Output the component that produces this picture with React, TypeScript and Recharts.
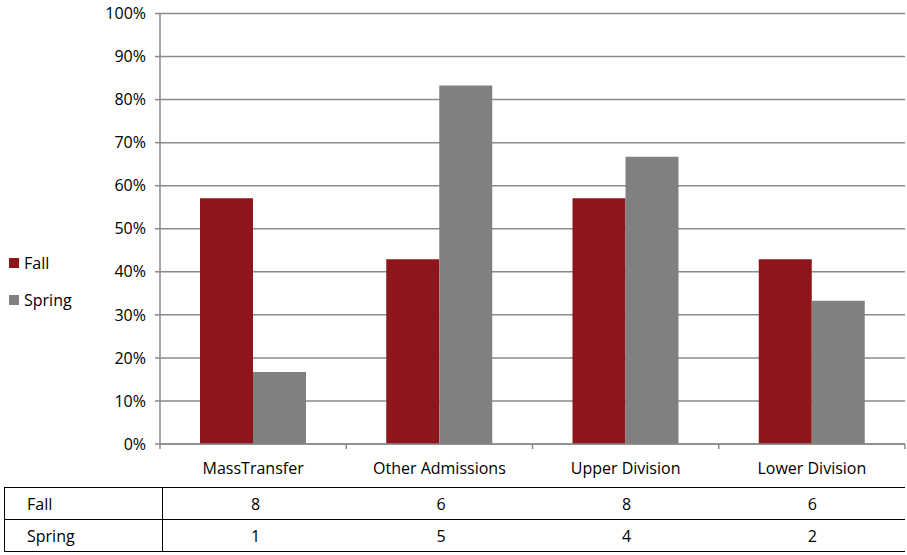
import React from 'react';
import { BarChart, Bar, XAxis, YAxis, CartesianGrid } from 'recharts';

const categories = ['MassTransfer', 'Other Admissions', 'Upper Division', 'Lower Division'];
const fallCounts = [8, 6, 8, 6];
const springCounts = [1, 5, 4, 2];
const fallShare = [0.571, 0.429, 0.571, 0.429];
const springShare = [0.167, 0.833, 0.667, 0.333];
const yTicks = [0, 0.1, 0.2, 0.3, 0.4, 0.5, 0.6, 0.7, 0.8, 0.9, 1];

const FALL = '#8E1519';
const SPRING = '#808080';
const GRID = '#8A8A8A';
const FONT = '"Open Sans", sans-serif';
const FS = 16;

const PLOT_LEFT = 160;
const PLOT_RIGHT = 905;
const BAND = (PLOT_RIGHT - PLOT_LEFT) / categories.length;

const data = categories.map((name, i) => ({
  name,
  fall: fallShare[i],
  spring: springShare[i],
}));

// category label plus the boundary tick marks that Excel draws between groups
const CategoryTick = (props: any) => {
  const { x, payload, index } = props;
  const axisY = 444;
  const left = x - BAND / 2;
  return (
    <g>
      <line x1={left} y1={axisY} x2={left} y2={axisY + 5} stroke={GRID} strokeWidth={1.5} />
      {index === categories.length - 1 && (
        <line x1={left + BAND} y1={axisY} x2={left + BAND} y2={axisY + 5} stroke={GRID} strokeWidth={1.5} />
      )}
      <text x={x} y={axisY + 30} textAnchor="middle" fill="#000" fontSize={FS} fontFamily={FONT}>
        {payload.value}
      </text>
    </g>
  );
};

const rows = [
  { label: 'Fall', values: fallCounts },
  { label: 'Spring', values: springCounts },
];

const App = () => {
  return (
    <div style={{ position: 'absolute', left: 0, top: 0, width: 907, height: 555, background: '#fff', fontFamily: FONT }}>
      <BarChart
        width={907}
        height={480}
        data={data}
        margin={{ top: 13.5, right: 907 - PLOT_RIGHT, bottom: 0, left: 0 }}
        barCategoryGap={40}
        barGap={0}
      >
        <CartesianGrid vertical={false} stroke={GRID} strokeWidth={1.5} />
        <YAxis
          width={PLOT_LEFT}
          domain={[0, 1]}
          ticks={yTicks}
          interval={0}
          tickFormatter={(v: number) => `${Math.round(v * 100)}%`}
          tick={{ fill: '#000', fontSize: FS, fontFamily: FONT }}
          axisLine={{ stroke: GRID, strokeWidth: 1.5 }}
          tickLine={{ stroke: GRID, strokeWidth: 1.5 }}
          tickSize={5}
          tickMargin={9}
        />
        <XAxis
          dataKey="name"
          height={36}
          interval={0}
          axisLine={{ stroke: GRID, strokeWidth: 1.5 }}
          tickLine={false}
          tick={<CategoryTick />}
        />
        <Bar dataKey="fall" fill={FALL} isAnimationActive={false} />
        <Bar dataKey="spring" fill={SPRING} isAnimationActive={false} />
      </BarChart>

      {/* legend */}
      <div style={{ position: 'absolute', left: 9, top: 253, fontSize: FS, color: '#000' }}>
        <div style={{ display: 'flex', alignItems: 'center', height: 20 }}>
          <span style={{ width: 10, height: 10, background: FALL, marginRight: 5 }} />
          Fall
        </div>
        <div style={{ display: 'flex', alignItems: 'center', height: 20, marginTop: 17 }}>
          <span style={{ width: 10, height: 10, background: SPRING, marginRight: 5 }} />
          Spring
        </div>
      </div>

      {/* data table */}
      <table
        style={{
          position: 'absolute',
          left: 4,
          top: 487,
          width: PLOT_RIGHT - 4,
          borderCollapse: 'collapse',
          fontSize: FS,
          color: '#000',
        }}
      >
        <tbody>
          {rows.map((r) => (
            <tr key={r.label} style={{ height: 32 }}>
              <td
                style={{
                  width: PLOT_LEFT - 4 - 22,
                  paddingLeft: 22,
                  borderTop: '1.5px solid #000',
                  borderBottom: '1.5px solid #000',
                  borderLeft: '1.5px solid #000',
                  borderRight: '1.5px solid #000',
                  paddingTop: 0,
                  paddingBottom: 0,
                }}
              >
                {r.label}
              </td>
              {r.values.map((v, i) => (
                <td
                  key={i}
                  style={{
                    width: BAND,
                    textAlign: 'center',
                    borderTop: '1.5px solid #000',
                    borderBottom: '1.5px solid #000',
                    padding: 0,
                  }}
                >
                  {v}
                </td>
              ))}
            </tr>
          ))}
        </tbody>
      </table>
    </div>
  );
};

export default App;
